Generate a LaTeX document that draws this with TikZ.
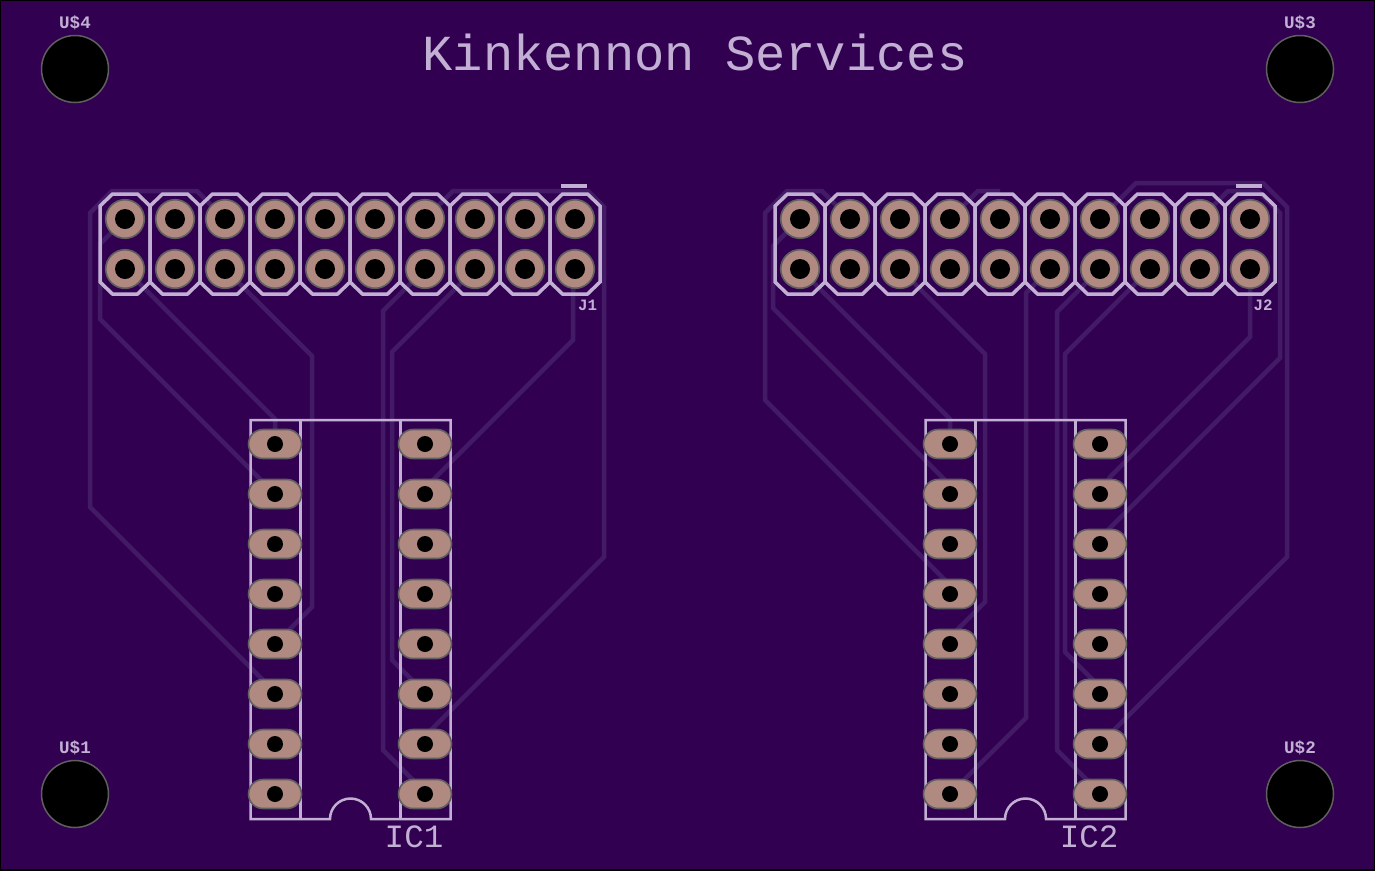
\documentclass[tikz,border=0pt]{standalone}
\usepackage{fontspec}
\setmonofont{Liberation Mono}
\definecolor{board}{HTML}{320050}
\definecolor{silk}{HTML}{C2B0D4}
\definecolor{trace}{HTML}{431A66}
\definecolor{copper}{HTML}{B08A80}
\definecolor{padedge}{HTML}{5F5F5F}
\tikzset{
  traceline/.style={draw=trace,line width=.09cm,line join=miter},
  silkline/.style={draw=silk,line width=.07cm,line join=miter},
  dipline/.style={draw=silk,line width=.05cm,line join=miter},
  padshape/.style={fill=copper,draw=padedge,line width=.032cm},
  drillhole/.style={fill=black},
  silktext/.style={text=silk,font=\ttfamily,inner sep=0pt}
}
\begin{document}
\begin{tikzpicture}[x=.02cm,y=-.02cm]
\useasboundingbox (0,0) rectangle (1375,870);
\fill[board] (0,0) rectangle (1375,870);
\draw[black,line width=.05cm] (0,0) rectangle (1375,870);
% traces under J1 and IC1
\draw[traceline] (225,219) -- (197,191) -- (112,191) -- (90,213) -- (90,507) -- (275,692);
\draw[traceline] (125,219) -- (100,244) -- (100,319) -- (275,494);
\draw[traceline] (125,269) -- (275,419) -- (275,444);
\draw[traceline] (225,269) -- (312,356) -- (312,607) -- (275,644);
\draw[traceline] (425,219) -- (453,191) -- (588,191) -- (604,207) -- (604,557) -- (431,730) -- (425,744);
\draw[traceline] (425,269) -- (383,311) -- (383,750) -- (425,792);
\draw[traceline] (475,269) -- (392,352) -- (392,660) -- (425,693);
\draw[traceline] (575,269) -- (573,271) -- (573,340) -- (430,483) -- (425,494);
% traces under J2 and IC2
\draw[traceline] (850,219) -- (822,191) -- (787,191) -- (765,213) -- (765,400) -- (950,585) -- (950,594);
\draw[traceline] (800,219) -- (773,246) -- (773,308) -- (950,485) -- (950,494);
\draw[traceline] (800,269) -- (950,419) -- (950,444);
\draw[traceline] (900,269) -- (985,354) -- (985,602) -- (950,637) -- (950,644);
\draw[traceline] (1050,269) -- (1026,293) -- (1026,718) -- (950,794);
\draw[traceline] (950,219) -- (978,191) -- (1000,191);
\draw[traceline] (1100,219) -- (1136,183) -- (1263,183) -- (1287,207) -- (1287,557) -- (1114,730) -- (1100,744);
\draw[traceline] (1200,219) -- (1228,191) -- (1258,191) -- (1280,213) -- (1280,358) -- (1107,531) -- (1100,544);
\draw[traceline] (1250,269) -- (1250,337) -- (1110,477) -- (1100,494);
\draw[traceline] (1100,269) -- (1057,312) -- (1057,750) -- (1100,793);
\draw[traceline] (1150,269) -- (1065,354) -- (1065,652) -- (1100,687);
% mounting holes
\foreach \hx/\hy in {75/69,1300/69,75/794,1300/794}
  \draw[drillhole,draw=padedge,line width=.03cm] (\hx,\hy) circle (.67cm);
% both connector and socket groups, J2/IC2 sit 675 to the right
\foreach \dx/\hdr in {0/125,675/800}{
  \foreach \i in {0,...,9}{
    \pgfmathsetmacro{\cx}{\hdr+50*\i}
    \foreach \cy in {219,269}{
      \draw[padshape] (\cx,\cy) circle (.386cm);
      \fill[drillhole] (\cx,\cy) circle (.2cm);
    }
    \draw[silkline] (\cx-25,206) -- (\cx-12.5,194) -- (\cx+12.5,194) -- (\cx+25,206)
      -- (\cx+25,282) -- (\cx+12.5,294) -- (\cx-12.5,294) -- (\cx-25,282) -- cycle;
  }
  \draw[draw=silk,line width=.08cm] (\hdr+436,186) -- (\hdr+462,186);
  \draw[dipline] (250.5+\dx,420) -- (450.5+\dx,420) -- (450.5+\dx,819) -- (371+\dx,819)
    arc[start angle=0,end angle=180,radius=.41cm] -- (250.5+\dx,819) -- cycle;
  \draw[dipline] (300.5+\dx,420) -- (300.5+\dx,819);
  \draw[dipline] (400.5+\dx,420) -- (400.5+\dx,819);
  \foreach \i in {0,...,7}{
    \pgfmathsetmacro{\cy}{444+50*\i}
    \foreach \cx in {275,425}{
      \draw[padshape,rounded corners=.29cm] (\cx+\dx-26.5,\cy-14.5) rectangle (\cx+\dx+26.5,\cy+14.5);
      \fill[drillhole] (\cx+\dx,\cy) circle (.16cm);
    }
  }
}
% labels
\node[silktext,font=\ttfamily\fontsize{28.7}{30}\selectfont] (title) at (695,52) {Kinkennon Services};
\node[silktext,font=\ttfamily\bfseries\fontsize{10}{11}\selectfont] (u4) at (75,23) {U\$4};
\node[silktext,font=\ttfamily\bfseries\fontsize{10}{11}\selectfont] (u3) at (1300,23) {U\$3};
\node[silktext,font=\ttfamily\bfseries\fontsize{10}{11}\selectfont] (u1) at (75,748) {U\$1};
\node[silktext,font=\ttfamily\bfseries\fontsize{10}{11}\selectfont] (u2) at (1300,748) {U\$2};
\node[silktext,font=\ttfamily\bfseries\fontsize{9}{10}\selectfont] (j1) at (587.5,305) {J1};
\node[silktext,font=\ttfamily\bfseries\fontsize{9}{10}\selectfont] (j2) at (1263,305) {J2};
\node[silktext,font=\ttfamily\fontsize{18.5}{20}\selectfont] (ic1) at (414,837) {IC1};
\node[silktext,font=\ttfamily\fontsize{18.5}{20}\selectfont] (ic2) at (1089,837) {IC2};
\end{tikzpicture}
\end{document}
